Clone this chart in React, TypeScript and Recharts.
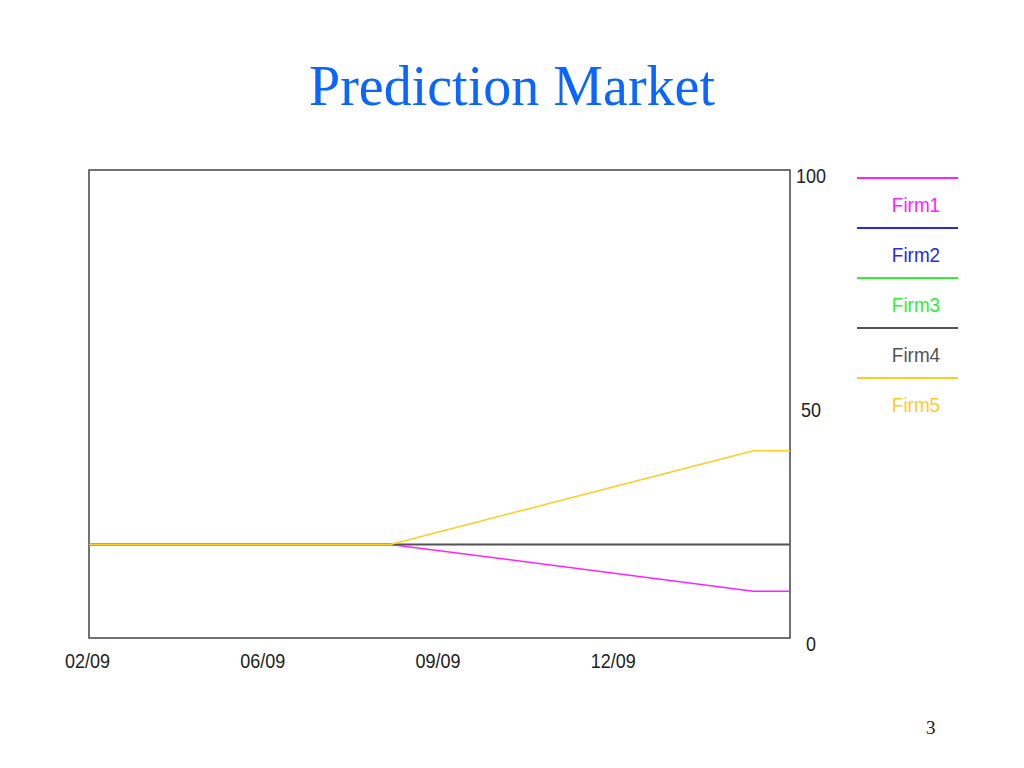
import React from "react";
import { LineChart, Line, XAxis, YAxis, ReferenceArea } from "recharts";

const xPositions = [0, 1.72, 3.79, 4];
const firm1 = [20, 20, 10, 10];
const firm2 = [20, 20, 20, 20];
const firm3 = [20, 20, 20, 20];
const firm4 = [20, 20, 20, 20];
const firm5 = [20, 20, 40, 40];
const xTickValues = [0, 1, 2, 3];
const xTickLabels = ["02/09", "06/09", "09/09", "12/09"];
const yTickValues = [0, 50, 100];
const seriesNames = ["Firm1", "Firm2", "Firm3", "Firm4", "Firm5"];
const seriesColors = ["#ff22ff", "#2a2ae0", "#33ee33", "#555555", "#ffcc22"];

const seriesValues = [firm1, firm2, firm3, firm4, firm5];
const data = xPositions.map((x, i) => {
  const row: Record<string, number> = { x };
  seriesNames.forEach((n, k) => {
    row[n] = seriesValues[k][i];
  });
  return row;
});

const FONT = "'Liberation Sans', Arial, sans-serif";

const XTick = (props: any) => {
  const { x, y, payload } = props;
  const idx = xTickValues.indexOf(payload.value);
  return (
    <text
      x={x - 1.5}
      y={y}
      dy={30}
      textAnchor="middle"
      fontFamily={FONT}
      fontSize={20}
      fill="#222"
      transform={`translate(${x - 1.5} 0) scale(0.9 1) translate(${-(x - 1.5)} 0)`}
    >
      {idx >= 0 ? xTickLabels[idx] : ""}
    </text>
  );
};

const YTick = (props: any) => {
  const { x, y, payload } = props;
  const cx = x + 21;
  return (
    <text
      x={cx}
      y={y}
      dy={13}
      textAnchor="middle"
      fontFamily={FONT}
      fontSize={20}
      fill="#222"
      transform={`translate(${cx} 0) scale(0.9 1) translate(${-cx} 0)`}
    >
      {payload.value}
    </text>
  );
};

export default function App() {
  return (
    <div
      style={{
        position: "absolute",
        left: 0,
        top: 0,
        width: 1024,
        height: 768,
        background: "#fff",
        overflow: "hidden",
      }}
    >
      <div
        style={{
          position: "absolute",
          left: 0,
          top: 54,
          width: 1024,
          textAlign: "center",
          fontFamily: "'Liberation Serif', 'Times New Roman', serif",
          fontSize: 56,
          color: "#0a66ff",
          lineHeight: "64px",
        }}
      >
        Prediction Market
      </div>
      <div style={{ position: "absolute", left: 0, top: 0 }}>
        <LineChart
          width={1024}
          height={768}
          data={data}
          margin={{ top: 170, left: 89, right: 194, bottom: 100 }}
        >
          <XAxis
            dataKey="x"
            type="number"
            domain={[0, 4]}
            ticks={xTickValues}
            tick={<XTick />}
            tickLine={false}
            axisLine={false}
            tickSize={0}
            tickMargin={0}
            height={30}
            allowDataOverflow
          />
          <YAxis
            orientation="right"
            type="number"
            domain={[0, 100]}
            ticks={yTickValues}
            tick={<YTick />}
            tickLine={false}
            axisLine={false}
            tickSize={0}
            tickMargin={0}
            width={40}
          />
          {seriesNames.map((n, i) => (
            <Line
              key={n}
              dataKey={n}
              stroke={seriesColors[i]}
              strokeWidth={1.5}
              dot={false}
              isAnimationActive={false}
              type="linear"
            />
          ))}
          <ReferenceArea
            x1={0}
            x2={4}
            y1={0}
            y2={100}
            fill="none"
            fillOpacity={0}
            stroke="#444"
            strokeWidth={1.5}
            ifOverflow="visible"
          />
        </LineChart>
      </div>
      {seriesNames.map((n, i) => (
        <React.Fragment key={n}>
          <div
            style={{
              position: "absolute",
              left: 857,
              top: 177 + i * 50,
              width: 101,
              height: 2,
              background: seriesColors[i],
            }}
          />
          <div
            style={{
              position: "absolute",
              left: 856,
              top: 192 + i * 50,
              width: 120,
              textAlign: "center",
              fontFamily: FONT,
              fontSize: 21,
              lineHeight: "26px",
              color: seriesColors[i],
              transform: "scaleX(0.9)",
            }}
          >
            {n}
          </div>
        </React.Fragment>
      ))}
      <div
        style={{
          position: "absolute",
          left: 926,
          top: 717,
          fontFamily: "'Liberation Serif', 'Times New Roman', serif",
          fontSize: 19,
          color: "#111",
        }}
      >
        3
      </div>
    </div>
  );
}
